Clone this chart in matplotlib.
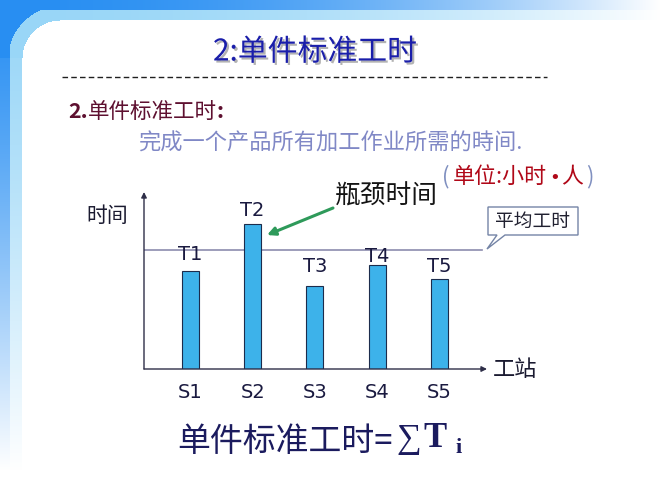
import numpy as np
import matplotlib
matplotlib.use("Agg")
import matplotlib.pyplot as plt
import matplotlib.patheffects as pe
from matplotlib.patches import Polygon

# ---- data ----
stations = ["S1", "S2", "S3", "S4", "S5"]
time_labels = ["T1", "T2", "T3", "T4", "T5"]
times = [9.8, 14.5, 8.3, 10.4, 9.0]
avg_time = 11.9

CJK = ['Noto Sans CJK SC', 'DejaVu Sans']
plt.rcParams['font.family'] = CJK

W, H = 667, 500
fig = plt.figure(figsize=(W / 100, H / 100), dpi=100)

# ---- background frame ----
bg = fig.add_axes([0, 0, 1, 1])
bg.set_xlim(0, W)
bg.set_ylim(H, 0)
bg.axis('off')
yy, xx = np.mgrid[0:H, 0:W].astype(float)
img = np.ones((H, W, 3))
dark = np.array([0.16, 0.56, 0.95])
light = np.array([0.60, 0.84, 0.97])
ftop = np.clip(1 - (xx / 660) ** 2, 0, 1)
fleft = np.clip(1 - (yy / 470) ** 1.3, 0, 1)
cx, cy, r = 60, 58, 38
dist = np.hypot(xx - cx, yy - cy)
corner = (xx < cx) & (yy < cy)
lightmask = (yy < 20) | (xx < 22) | (corner & (dist > r))
darkmask = (yy < 10) | (xx < 10) | (corner & (dist > r + 14))
fade = np.where(yy < 20, ftop, fleft)
fade = np.where(corner, 1.0, fade)
for m, col in ((lightmask, light), (darkmask, dark)):
    for c in range(3):
        ch = img[:, :, c]
        ch[m] = 1 - (1 - col[c]) * fade[m]
bg.imshow(img, extent=(0, W, H, 0), aspect='auto', zorder=0)

# ---- heading texts ----
bg.text(315, 52, "2:单件标准工时", fontsize=21.5, color='#1a1eaa', ha='center', va='center',
        family=CJK,
        path_effects=[pe.withSimplePatchShadow(offset=(1.5, -1.5), shadow_rgbFace='#808080', alpha=0.6)])
bg.plot([62, 547], [77, 77], color='#202020', lw=1.0, linestyle=(0, (4, 2.3)))
bg.text(68, 112, "2.", fontsize=15.5, color='#5e1030', ha='left', va='center', fontweight='bold', family=CJK)
bg.text(88, 112, "单件标准工时", fontsize=15.5, color='#5e1030', ha='left', va='center', family=CJK)
bg.text(217, 112, ":", fontsize=15.5, color='#5e1030', ha='left', va='center', fontweight='bold', family=CJK)
bg.text(138, 143, "完成一个产品所有加工作业所需的時间.", fontsize=16, color='#8088c6',
        ha='left', va='center', family=CJK)
bg.text(446, 177, "(", fontsize=16, color='#8090c0', ha='center', va='center', family=CJK)
bg.text(453, 177, "单位:小时", fontsize=15.8, color='#b00818', ha='left', va='center', family=CJK)
bg.text(555, 178, "•", fontsize=13, color='#b00818', ha='center', va='center', family=['DejaVu Sans'])
bg.text(561, 177, "人", fontsize=15.8, color='#b00818', ha='left', va='center', family=CJK)
bg.text(590, 177, ")", fontsize=16, color='#8090c0', ha='center', va='center', family=CJK)

# ---- chart ----
x0, x1, ytop, ybot = 144, 487, 192, 369
ax = fig.add_axes([x0 / W, (H - ybot) / H, (x1 - x0) / W, (ybot - ytop) / H])
ax.patch.set_visible(False)
for s in ax.spines.values():
    s.set_visible(False)
ax.set_xticks([])
ax.set_yticks([])
pos = np.arange(len(stations))
ax.set_xlim(-0.745, 4.765)
ax.set_ylim(0, 17.7)
axis_col = '#2e2e48'
ax.axhline(avg_time, xmin=0, xmax=0.985, color='#8c8cae', lw=1.2, zorder=1)
ax.bar(pos, times, width=0.273, color='#3db2ea', edgecolor='#1c2c4c', linewidth=0.8, zorder=2)
ax.annotate('', xy=(0, 1), xytext=(0, 0), xycoords='axes fraction',
            arrowprops=dict(arrowstyle='-|>', color=axis_col, lw=1.0, shrinkA=0, shrinkB=0,
                            mutation_scale=8), annotation_clip=False)
ax.annotate('', xy=(1, 0), xytext=(0, 0), xycoords='axes fraction',
            arrowprops=dict(arrowstyle='-|>', color=axis_col, lw=1.0, shrinkA=0, shrinkB=0,
                            mutation_scale=8), annotation_clip=False)
label_gap = [16, 14, 20, 8, 12]  # px from bar top to label centre
for i, (lab, v) in enumerate(zip(time_labels, times)):
    ax.annotate(lab, xy=(pos[i], v), xytext=(0, label_gap[i] * 0.72), textcoords='offset points',
                ha='center', va='center', fontsize=14, color='#1a1a40', family=['DejaVu Sans'])
for i, s in enumerate(stations):
    ax.annotate(s, xy=(pos[i], 0), xytext=(0, -23 * 0.72), textcoords='offset points',
                ha='center', va='center', fontsize=14, color='#1a1a40', family=['DejaVu Sans'])

# axis titles & annotations
bg.text(107, 216, "时间", fontsize=15, color='#1a1a30', ha='center', va='center', family=CJK)
bg.text(515, 370, "工站", fontsize=16, color='#1a1a30', ha='center', va='center', family=CJK)
bg.text(386, 197, "瓶颈时间", fontsize=18.5, color='#141414', ha='center', va='center', family=CJK)
bg.annotate('', xy=(267, 235), xytext=(333, 208),
            arrowprops=dict(arrowstyle='-|>', color='#2e9a5a', lw=2.2, shrinkA=0, shrinkB=0,
                            mutation_scale=12))
callout = Polygon([(488, 207), (578, 207), (578, 235), (505, 235), (487, 249), (497, 235), (488, 235)],
                  closed=True, facecolor='white', edgecolor='#7484a6', lw=1.0, zorder=3)
bg.add_patch(callout)
bg.text(533, 221, "平均工时", fontsize=13.5, color='#202030', ha='center', va='center', family=CJK, zorder=4)

# ---- formula ----
fcol = '#1b1b5e'
serif = ['Liberation Serif', 'DejaVu Serif']
bg.text(177, 442, "单件标准工时=", fontsize=23.7, color=fcol, ha='left', va='center', family=CJK)
bg.text(396, 448, "∑", fontsize=25, color=fcol, ha='left', va='baseline', family=serif)
bg.text(423, 447, "T", fontsize=25, color=fcol, ha='left', va='baseline', fontweight='bold', family=serif)
bg.text(455, 453, "i", fontsize=16, color=fcol, ha='left', va='baseline', fontweight='bold', family=serif)

fig.savefig("out.png", dpi=100)
